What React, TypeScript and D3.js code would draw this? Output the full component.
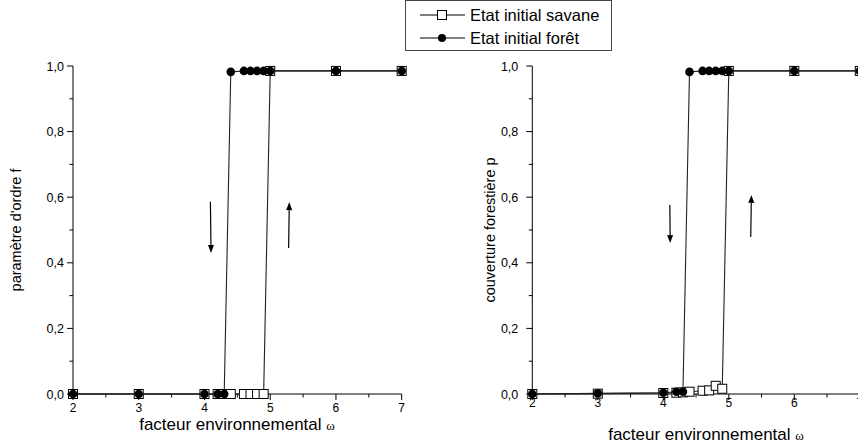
import React from "react";
import * as d3 from "d3";

const xVals = [2, 3, 4, 4.2, 4.3, 4.4, 4.6, 4.7, 4.8, 4.9, 5, 6, 7];
const fSavane = [0, 0, 0, 0, 0, 0, 0, 0, 0, 0, 0.985, 0.985, 0.985];
const fForet = [0, 0, 0, 0, 0, 0.982, 0.985, 0.985, 0.985, 0.985, 0.985, 0.985, 0.985];
const pSavane = [0, 0.001, 0.003, 0.004, 0.005, 0.007, 0.01, 0.011, 0.025, 0.016, 0.985, 0.985, 0.985];
const pForet = [0, 0.002, 0.004, 0.007, 0.007, 0.982, 0.985, 0.985, 0.985, 0.985, 0.985, 0.985, 0.985];
const xTicks = [2, 3, 4, 5, 6, 7];
const yTicks = [0, 0.2, 0.4, 0.6, 0.8, 1.0];
const legendLabels = ["Etat initial savane", "Etat initial forêt"];

const W = 858;
const H = 446;

type PanelProps = {
  x0: number;
  x1: number;
  yTitle: string;
  yTitleX: number;
  ySav: number[];
  yFor: number[];
  labelGap: number;
  xLabelY: number;
  xTitleX: number;
  xTitleY: number;
  arrows: { x: number; y0: number; x2: number; y1: number }[];
};

const fmt = (v: number) => v.toFixed(1).replace(".", ",");

function Panel(p: PanelProps) {
  const x = d3.scaleLinear().domain([2, 7]).range([p.x0, p.x1]);
  const y = d3.scaleLinear().domain([0, 1]).range([394, 66]);
  const line = d3
    .line<number>()
    .x((_, i) => x(xVals[i]))
    .y((d) => y(d));
  const minorX = d3.range(2.5, 7, 1);
  const minorY = d3.range(0.1, 1, 0.2);
  const lineColor = "#222";
  return (
    <g>
      {/* axes */}
      <line x1={x(2)} x2={x(7)} y1={y(0)} y2={y(0)} stroke="#000" strokeWidth={1} />
      <line x1={x(2)} x2={x(2)} y1={y(0)} y2={y(1)} stroke="#000" strokeWidth={1} />
      {xTicks.map((t) => (
        <g key={"xt" + t}>
          <line x1={x(t)} x2={x(t)} y1={y(0)} y2={y(0) + 6} stroke="#000" />
          <text x={x(t)} y={p.xLabelY} textAnchor="middle" fontSize={12} fontFamily="Liberation Sans, Arial, sans-serif">
            {t}
          </text>
        </g>
      ))}
      {minorX.map((t) => (
        <line key={"xm" + t} x1={x(t)} x2={x(t)} y1={y(0)} y2={y(0) + 3.5} stroke="#000" />
      ))}
      {yTicks.map((t) => (
        <g key={"yt" + t}>
          <line x1={x(2) - 6} x2={x(2)} y1={y(t)} y2={y(t)} stroke="#000" />
          <text
            x={x(2) - p.labelGap}
            y={y(t) + 4.5}
            textAnchor="end"
            fontSize={12.5}
            fontFamily="Liberation Sans, Arial, sans-serif"
          >
            {fmt(t)}
          </text>
        </g>
      ))}
      {minorY.map((t) => (
        <line key={"ym" + t} x1={x(2) - 3.5} x2={x(2)} y1={y(t)} y2={y(t)} stroke="#000" />
      ))}
      {/* titles */}
      <text
        x={p.xTitleX}
        y={p.xTitleY}
        textAnchor="middle"
        fontSize={17}
        fontFamily="Liberation Sans, Arial, sans-serif"
      >
        facteur environnemental{" "}
        <tspan fontFamily="Liberation Serif, Times New Roman, serif" fontSize={13}>
          ω
        </tspan>
      </text>
      <text
        transform={`translate(${p.yTitleX},${y(0.5)}) rotate(-90)`}
        textAnchor="middle"
        fontSize={14.5}
        fontFamily="Liberation Sans, Arial, sans-serif"
      >
        {p.yTitle}
      </text>
      {/* data lines */}
      <path d={line(p.ySav) || ""} fill="none" stroke={lineColor} strokeWidth={1.1} />
      <path d={line(p.yFor) || ""} fill="none" stroke={lineColor} strokeWidth={1.1} />
      {/* savane markers */}
      {p.ySav.map((v, i) => (
        <rect
          key={"s" + i}
          x={x(xVals[i]) - 4.5}
          y={y(v) - 4.5}
          width={9}
          height={9}
          fill="#fff"
          stroke="#000"
          strokeWidth={1}
        />
      ))}
      {/* foret markers */}
      {p.yFor.map((v, i) => (
        <circle key={"f" + i} cx={x(xVals[i])} cy={y(v)} r={4.3} fill="#000" />
      ))}
      {/* arrows */}
      {p.arrows.map((a, i) => {
        const ax0 = x(a.x), ay0 = y(a.y0), ax1 = x(a.x2), ay1 = y(a.y1);
        const ang = Math.atan2(ay1 - ay0, ax1 - ax0);
        const L = 8, Wd = 3;
        const bx = ax1 - L * Math.cos(ang), by = ay1 - L * Math.sin(ang);
        const px = -Math.sin(ang) * Wd, py = Math.cos(ang) * Wd;
        return (
          <g key={"a" + i}>
            <line x1={ax0} y1={ay0} x2={bx} y2={by} stroke="#000" strokeWidth={1.2} />
            <path d={`M${ax1},${ay1}L${bx + px},${by + py}L${bx - px},${by - py}Z`} fill="#000" />
          </g>
        );
      })}
    </g>
  );
}

export default function App() {
  return (
    <div style={{ position: "fixed", left: 0, top: 0, width: W, height: H, background: "#fff" }}>
      <svg width={W} height={H} style={{ display: "block" }}>
        <rect width={W} height={H} fill="#fff" />
        <Panel
          x0={73}
          x1={401.7}
          yTitle="paramètre d'ordre f"
          yTitleX={21}
          ySav={fSavane}
          yFor={fForet}
          labelGap={9}
          xLabelY={412}
          xTitleX={237}
          xTitleY={430}
          arrows={[
            { x: 4.09, y0: 0.586, x2: 4.1, y1: 0.43 },
            { x: 5.28, y0: 0.445, x2: 5.29, y1: 0.585 },
          ]}
        />
        <Panel
          x0={532.3}
          x1={859.8}
          yTitle="couverture forestière p"
          yTitleX={495}
          ySav={pSavane}
          yFor={pForet}
          labelGap={14}
          xLabelY={407}
          xTitleX={706}
          xTitleY={440}
          arrows={[
            { x: 4.1, y0: 0.576, x2: 4.105, y1: 0.46 },
            { x: 5.335, y0: 0.479, x2: 5.345, y1: 0.607 },
          ]}
        />
        {/* legend */}
        <g fontFamily="Liberation Sans, Arial, sans-serif" fontSize={16.5}>
          <rect x={405.5} y={0.5} width={206} height={50} fill="#fff" stroke="#444" strokeWidth={1} />
          <line x1={420} x2={465} y1={15} y2={15} stroke="#000" />
          <rect x={437.5} y={10.5} width={9} height={9} fill="#fff" stroke="#000" />
          <text x={470} y={21}>{legendLabels[0]}</text>
          <line x1={420} x2={465} y1={38} y2={38} stroke="#000" />
          <circle cx={442} cy={38} r={4} fill="#000" />
          <text x={470} y={44}>{legendLabels[1]}</text>
        </g>
      </svg>
    </div>
  );
}
